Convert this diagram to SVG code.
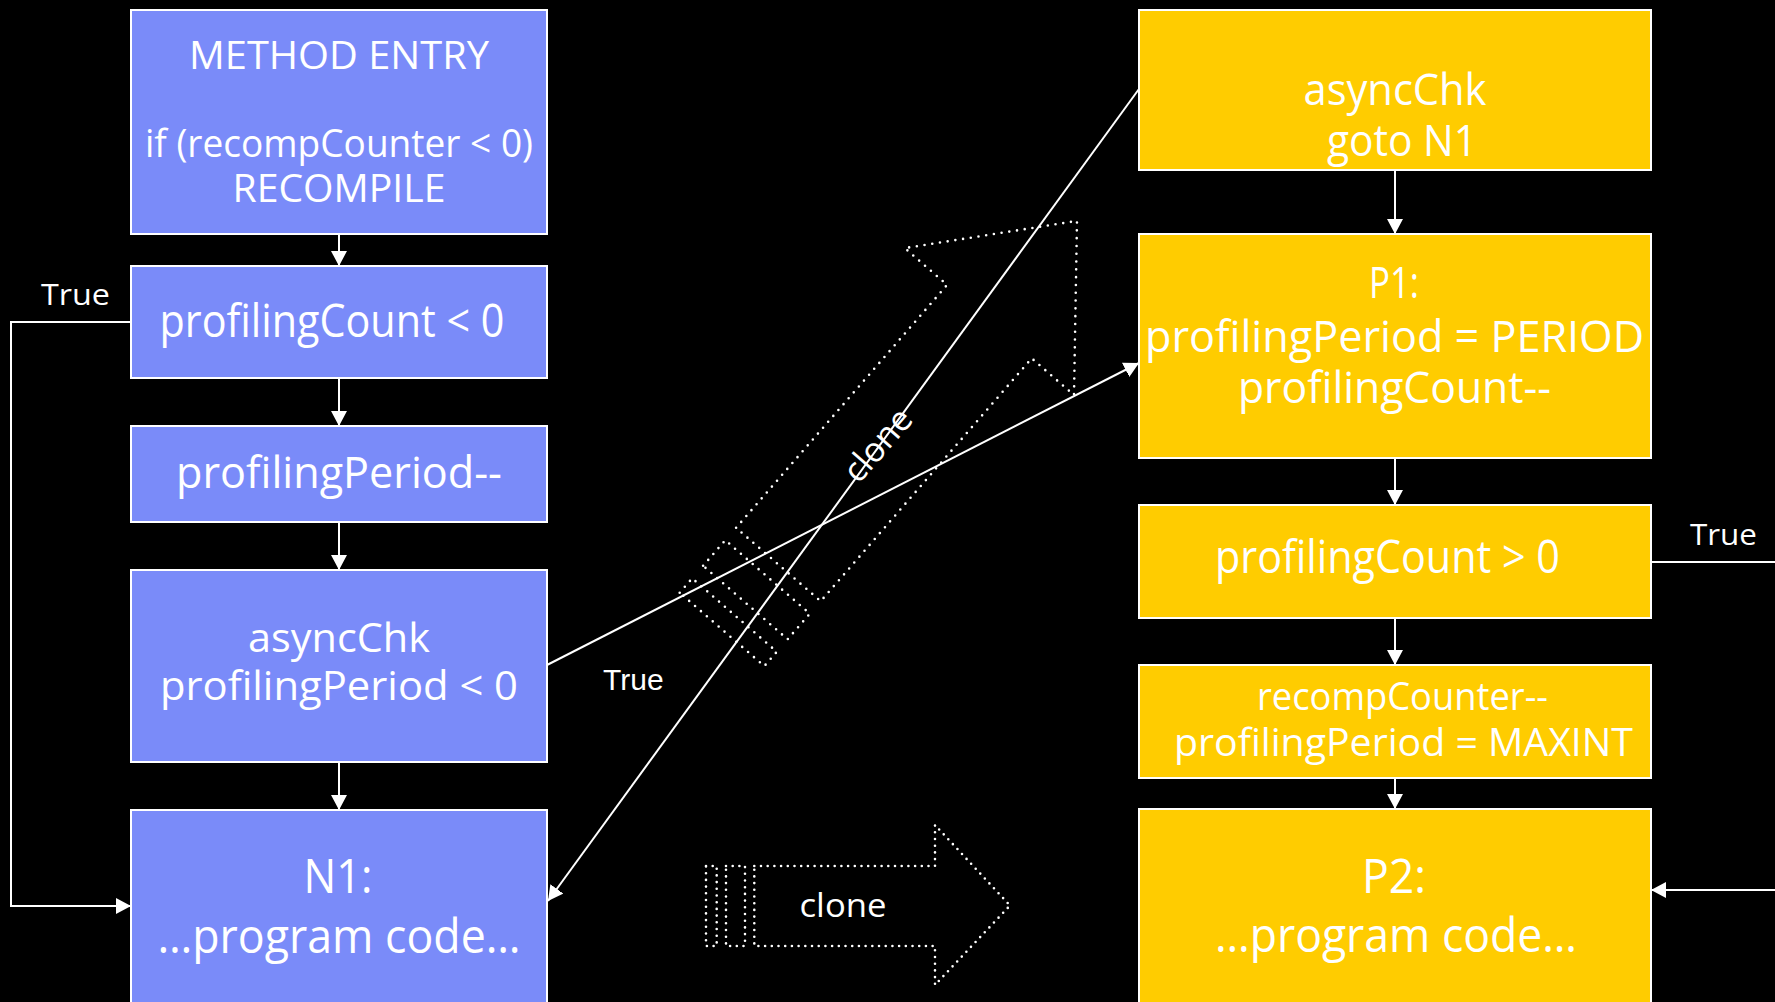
<svg xmlns="http://www.w3.org/2000/svg" width="1775" height="1002" viewBox="0 0 1775 1002">
  <defs>
    <style>
      .blue { fill: #7A8BF9; stroke: #ffffff; stroke-width: 2; }
      .gold { fill: #FFCC00; stroke: #ffffff; stroke-width: 2; }
      .t { font-family: 'Comic Sans MS', 'Open Sans', sans-serif; fill: #ffffff; text-anchor: middle; }
      .lbl { font-family: 'Comic Sans MS', 'Open Sans', sans-serif; fill: #ffffff; font-size: 30px; }
      .arial { font-family: 'Liberation Sans', Arial, sans-serif; fill: #ffffff; font-size: 30px; }
      .edge { fill: none; stroke: #ffffff; stroke-width: 2; }
      .arr { marker-end: url(#ah); }
      .dots { fill: none; stroke: #ffffff; stroke-width: 2.6; stroke-linecap: round; stroke-linejoin: round; }
    </style>
    <marker id="ah" markerUnits="userSpaceOnUse" markerWidth="16" markerHeight="16" refX="15" refY="8" orient="auto">
      <path d="M0,0 L15,8 L0,16 z" fill="#ffffff"/>
    </marker>
  </defs>

  <rect x="0" y="0" width="1775" height="1002" fill="#000000"/>

  <!-- striped "clone" arrows -->
  <g id="clone-arrow-diagonal">
    <g class="dots" stroke-dasharray="0 7.8">
      <polygon points="679.7,592.7 692.2,578.3 776.8,651.8 764.3,666.1"/>
      <polygon points="703.1,565.8 725.3,540.2 809.8,613.7 787.6,639.3"/>
      <polygon points="736.1,527.8 947.1,284.9 904.8,248.1 1077,220.9 1074,395.1 1031.7,358.3 820.7,601.2"/>
    </g>
    <text class="t" font-size="34" transform="translate(879,446) rotate(-49)" y="10">clone</text>
  </g>

  <g id="clone-arrow-bottom">
    <g class="dots" stroke-dasharray="0 6.7">
      <rect x="706" y="866" width="10.7" height="80"/>
      <rect x="726" y="866" width="19" height="80"/>
      <polygon points="754.3,866 935,866 935,825 1010,905.5 935,985 935,946 754.3,946"/>
    </g>
    <text class="t" font-size="32" x="843" y="917" textLength="87" lengthAdjust="spacingAndGlyphs">clone</text>
  </g>

  <!-- original method, left column -->
  <g id="method-entry">
    <rect class="blue" x="131" y="10" width="416" height="224"/>
    <text class="t" font-size="38" x="339" y="69" textLength="300" lengthAdjust="spacingAndGlyphs">METHOD ENTRY</text>
    <text class="t" font-size="38" x="339" y="157" textLength="388" lengthAdjust="spacingAndGlyphs">if (recompCounter &lt; 0)</text>
    <text class="t" font-size="38" x="339" y="202" textLength="213" lengthAdjust="spacingAndGlyphs">RECOMPILE</text>
  </g>
  <g id="count-test">
    <rect class="blue" x="131" y="266" width="416" height="112"/>
    <text class="t" font-size="45" x="332" y="337" textLength="345" lengthAdjust="spacingAndGlyphs">profilingCount &lt; 0</text>
  </g>
  <g id="period-dec">
    <rect class="blue" x="131" y="426" width="416" height="96"/>
    <text class="t" font-size="43" x="339" y="488" textLength="326" lengthAdjust="spacingAndGlyphs">profilingPeriod--</text>
  </g>
  <g id="async-check">
    <rect class="blue" x="131" y="570" width="416" height="192"/>
    <text class="t" font-size="41" x="339" y="652" textLength="182" lengthAdjust="spacingAndGlyphs">asyncChk</text>
    <text class="t" font-size="41" x="339" y="700" textLength="358" lengthAdjust="spacingAndGlyphs">profilingPeriod &lt; 0</text>
  </g>
  <g id="n1">
    <rect class="blue" x="131" y="810" width="416" height="200"/>
    <text class="t" font-size="48" x="338" y="893" textLength="69" lengthAdjust="spacingAndGlyphs">N1:</text>
    <text class="t" font-size="48" x="339" y="953" textLength="363" lengthAdjust="spacingAndGlyphs">…program code…</text>
  </g>

  <!-- profiled clone, right column -->
  <g id="async-goto">
    <rect class="gold" x="1139" y="10" width="512" height="160"/>
    <text class="t" font-size="43" x="1395" y="105" textLength="183" lengthAdjust="spacingAndGlyphs">asyncChk</text>
    <text class="t" font-size="43" x="1402" y="156" textLength="150" lengthAdjust="spacingAndGlyphs">goto N1</text>
  </g>
  <g id="p1">
    <rect class="gold" x="1139" y="234" width="512" height="224"/>
    <text class="t" font-size="43" x="1394" y="298" textLength="50" lengthAdjust="spacingAndGlyphs">P1:</text>
    <text class="t" font-size="43" x="1394.5" y="352" textLength="499" lengthAdjust="spacingAndGlyphs">profilingPeriod = PERIOD</text>
    <text class="t" font-size="43" x="1394.5" y="403" textLength="313" lengthAdjust="spacingAndGlyphs">profilingCount--</text>
  </g>
  <g id="count-positive">
    <rect class="gold" x="1139" y="505" width="512" height="113"/>
    <text class="t" font-size="45" x="1387.5" y="573" textLength="345" lengthAdjust="spacingAndGlyphs">profilingCount &gt; 0</text>
  </g>
  <g id="recomp-dec">
    <rect class="gold" x="1139" y="665" width="512" height="113"/>
    <text class="t" font-size="38" x="1402.5" y="710" textLength="291" lengthAdjust="spacingAndGlyphs">recompCounter--</text>
    <text class="t" font-size="38" x="1403.5" y="756" textLength="459" lengthAdjust="spacingAndGlyphs">profilingPeriod = MAXINT</text>
  </g>
  <g id="p2">
    <rect class="gold" x="1139" y="809" width="512" height="201"/>
    <text class="t" font-size="48" x="1394" y="893" textLength="64" lengthAdjust="spacingAndGlyphs">P2:</text>
    <text class="t" font-size="48" x="1396" y="952" textLength="362" lengthAdjust="spacingAndGlyphs">…program code…</text>
  </g>

  <!-- connectors -->
  <g id="connectors">
    <line class="edge arr" x1="339" y1="234" x2="339" y2="266"/>
    <line class="edge arr" x1="339" y1="378" x2="339" y2="426"/>
    <line class="edge arr" x1="339" y1="522" x2="339" y2="570"/>
    <line class="edge arr" x1="339" y1="762" x2="339" y2="810"/>
    <polyline class="edge arr" points="131,322 11,322 11,906 131,906"/>

    <line class="edge arr" x1="1395" y1="170" x2="1395" y2="234"/>
    <line class="edge arr" x1="1395" y1="458" x2="1395" y2="505"/>
    <line class="edge arr" x1="1395" y1="618" x2="1395" y2="665"/>
    <line class="edge arr" x1="1395" y1="778" x2="1395" y2="809"/>
    <line class="edge" x1="1651" y1="562" x2="1775" y2="562"/>
    <line class="edge arr" x1="1775" y1="890" x2="1651" y2="890"/>

    <line class="edge arr" x1="547" y1="665" x2="1139" y2="363"/>
    <line class="edge arr" x1="1139" y1="89" x2="548" y2="901"/>

    <text class="lbl" x="41" y="305" textLength="69" lengthAdjust="spacingAndGlyphs">True</text>
    <text class="lbl" x="1690" y="545" textLength="67" lengthAdjust="spacingAndGlyphs">True</text>
    <text class="arial" x="603" y="690">True</text>
  </g>
</svg>
